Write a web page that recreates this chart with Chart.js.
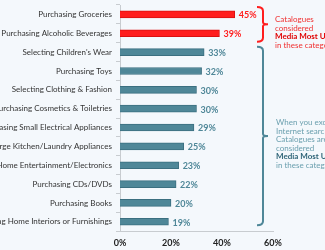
<!DOCTYPE html>
<html>
<head>
<meta charset="utf-8">
<script src="https://cdn.jsdelivr.net/npm/chart.js@4"></script>
<style>
  html, body { margin: 0; padding: 0; background: #f4f8fc; }
  #wrap { width: 325px; height: 250px; }
</style>
</head>
<body>
<div id="wrap"><canvas id="chart" width="325" height="250"></canvas></div>
<script>
const categories = [
  'Purchasing Groceries',
  'Purchasing Alcoholic Beverages',
  "Selecting Children's Wear",
  'Purchasing Toys',
  'Selecting Clothing & Fashion',
  'Purchasing Cosmetics & Toiletries',
  'Purchasing Small Electrical Appliances',
  'Purchasing Large Kitchen/Laundry Appliances',
  'Purchasing Home Entertainment/Electronics',
  'Purchasing CDs/DVDs',
  'Purchasing Books',
  'Selecting Home Interiors or Furnishings',
];
const values = [45, 39, 33, 32, 30, 30, 29, 25, 23, 22, 20, 19];
const xTicks = [0, 20, 40, 60];
const redCount = 2;

const RED = '#ff1e1e';
const TEAL = '#4f8798';
const FONT = 'Lato, "Open Sans", sans-serif';

const barColors = values.map((v, i) => i < redCount ? RED : TEAL);
const borderColors = values.map((v, i) => i < redCount ? '#d91010' : '#3b6f80');

// value labels at the end of each bar
const valueLabels = {
  id: 'valueLabels',
  afterDatasetsDraw(chart) {
    const ctx = chart.ctx;
    const meta = chart.getDatasetMeta(0);
    ctx.save();
    ctx.font = 'bold 9px ' + FONT;
    ctx.textBaseline = 'middle';
    ctx.textAlign = 'left';
    meta.data.forEach((bar, i) => {
      ctx.fillStyle = i < redCount ? RED : TEAL;
      ctx.fillText(values[i] + '%', bar.x + 4, bar.y + 1);
    });
    ctx.restore();
  }
};

// braces and notes on the right
const notes = {
  id: 'notes',
  afterDraw(chart) {
    const ctx = chart.ctx;
    const y = chart.scales.y;
    const half = (y.getPixelForValue(1) - y.getPixelForValue(0)) / 2;

    function brace(top, bottom, color) {
      const x = 263, mid = (top + bottom) / 2;
      ctx.save();
      ctx.strokeStyle = color;
      ctx.lineWidth = 2;
      ctx.beginPath();
      ctx.moveTo(257, top);
      ctx.quadraticCurveTo(x, top, x, top + 4);
      ctx.lineTo(x, mid - 2);
      ctx.quadraticCurveTo(x, mid, x + 5, mid);
      ctx.quadraticCurveTo(x, mid, x, mid + 2);
      ctx.lineTo(x, bottom - 4);
      ctx.quadraticCurveTo(x, bottom, 257, bottom);
      ctx.stroke();
      ctx.restore();
    }

    function lines(list, x, y0, color, boldColor) {
      ctx.save();
      ctx.textBaseline = 'middle';
      ctx.textAlign = 'left';
      list.forEach((t, i) => {
        const bold = t === 'Media Most Used';
        ctx.font = (bold ? 'bold ' : '') + '8px ' + FONT;
        ctx.fillStyle = bold ? boldColor : color;
        ctx.fillText(t, x, y0 + i * 8.5);
      });
      ctx.restore();
    }

    brace(y.getPixelForValue(0) - half + 2, y.getPixelForValue(1) + half - 1, RED);
    brace(y.getPixelForValue(2) - half + 4, y.getPixelForValue(11) + half - 6, TEAL);

    lines(['Catalogues', 'considered', 'Media Most Used', 'in these categories'],
      275, 19.5, '#f03030', '#e00000');
    lines(['When you exclude', 'Internet search', 'Catalogues are', 'considered', 'Media Most Used', 'in these categories'],
      276, 122.5, '#6a9fae', '#2d6376');
  }
};

new Chart(document.getElementById('chart'), {
  type: 'bar',
  data: {
    labels: categories,
    datasets: [{
      data: values,
      backgroundColor: barColors,
      borderColor: borderColors,
      borderWidth: 1,
      barThickness: 7,
    }],
  },
  options: {
    indexAxis: 'y',
    responsive: false,
    animation: false,
    layout: { padding: { top: 5, right: 52, bottom: 0, left: 0 } },
    plugins: { legend: { display: false }, tooltip: { enabled: false } },
    scales: {
      x: {
        min: 0,
        max: 60,
        afterBuildTicks: s => { s.ticks = xTicks.map(v => ({ value: v })); },
        grid: { display: false, drawOnChartArea: false, drawTicks: true, tickLength: 4, color: '#c8ccd0' },
        border: { display: true, color: '#c8ccd0' },
        ticks: {
          color: '#222',
          font: { family: FONT, size: 9, weight: 'bold' },
          padding: 2,
          maxRotation: 0,
          callback: v => v + '%',
        },
      },
      y: {
        afterFit: s => { s.width = 120; s.paddingTop = 0; s.paddingBottom = 0; },
        grid: { display: true, drawOnChartArea: false, drawTicks: true, tickLength: 4, offset: true, color: '#c8ccd0' },
        border: { display: true, color: '#c8ccd0' },
        ticks: {
          color: '#333',
          font: { family: FONT, size: 8 },
          padding: 4,
          autoSkip: false,
        },
      },
    },
  },
  plugins: [valueLabels, notes],
});
</script>
</body>
</html>
